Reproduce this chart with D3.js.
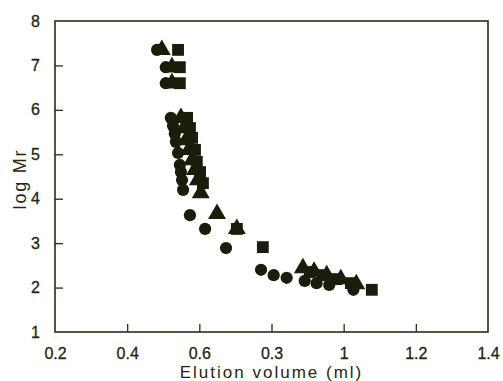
<!DOCTYPE html>
<html><head><meta charset="utf-8">
<script src="https://cdn.jsdelivr.net/npm/d3@7"></script>
<style>
html,body{margin:0;padding:0;background:#fff;}
svg{display:block;}
text{font-family:"Liberation Sans",Arial,Helvetica,sans-serif;fill:#26260f;}
</style></head>
<body>
<script>
// ---- data (Elution volume in ml, log Mr) ----
const xTickValues = [0.2, 0.4, 0.6, 0.8, 1.0, 1.2, 1.4];
const xTickLabels = ["0.2", "0.4", "0.6", "0.3", "1", "1.2", "1.4"];
const yTickValues = [1, 2, 3, 4, 5, 6, 7, 8];
const yTickLabels = ["1", "2", "3", "4", "5", "6", "7", "8"];
const xTitle = "Elution volume (ml)";
const yTitle = "log Mr";

const circleX = [0.483, 0.507, 0.507, 0.521, 0.527, 0.532, 0.535, 0.541, 0.546, 0.549, 0.552, 0.555, 0.574, 0.616, 0.674, 0.771, 0.806, 0.842, 0.892, 0.925, 0.960, 1.027];
const circleY = [7.35, 6.96, 6.60, 5.82, 5.64, 5.46, 5.28, 5.03, 4.76, 4.60, 4.42, 4.20, 3.63, 3.32, 2.89, 2.40, 2.28, 2.22, 2.15, 2.10, 2.06, 1.95];

const triX = [0.496, 0.524, 0.524, 0.549, 0.557, 0.563, 0.571, 0.580, 0.588, 0.596, 0.604, 0.649, 0.704, 0.887, 0.918, 0.953, 0.992, 1.035];
const triY = [7.35, 6.96, 6.60, 5.82, 5.59, 5.32, 5.10, 4.87, 4.65, 4.42, 4.13, 3.66, 3.32, 2.44, 2.36, 2.28, 2.19, 2.08];

const sqX = [0.541, 0.546, 0.546, 0.566, 0.574, 0.580, 0.588, 0.593, 0.602, 0.610, 0.704, 0.776, 0.906, 0.942, 0.980, 1.020, 1.078];
const sqY = [7.35, 6.96, 6.60, 5.82, 5.59, 5.37, 5.10, 4.83, 4.60, 4.35, 3.32, 2.91, 2.35, 2.28, 2.19, 2.10, 1.95];

// ---- layout ----
const W = 503, H = 381;
const mLeft = 55, mRight = 488, mTop = 21, mBottom = 332;
const ink = "#1c1c0c", axisInk = "#2e2e12";

const svg = d3.select("body").append("svg").attr("width", W).attr("height", H);

const x = d3.scaleLinear().domain([0.2, 1.4]).range([mLeft, mRight]);
const y = d3.scaleLinear().domain([1, 8]).range([mBottom, mTop]);

// frame
svg.append("rect").attr("x", mLeft).attr("y", mTop)
  .attr("width", mRight - mLeft).attr("height", mBottom - mTop)
  .attr("fill", "none").attr("stroke", axisInk).attr("stroke-width", 1.6);

// axes with inward ticks
const xAxis = d3.axisBottom(x).tickValues(xTickValues)
  .tickSize(-8).tickPadding(16)
  .tickFormat((d, i) => xTickLabels[i]);
const gx = svg.append("g").attr("transform", `translate(0,${mBottom})`).call(xAxis);
gx.select(".domain").remove();
gx.selectAll(".tick line").attr("stroke", axisInk).attr("stroke-width", 1.3)
  .filter(d => d === 0.2 || d === 1.4).remove();
gx.selectAll(".tick text").attr("font-size", 16).attr("fill", "#26260f")
  .attr("stroke", "#26260f").attr("stroke-width", 0.3)
  .attr("font-family", "Liberation Sans, Arial, sans-serif");

const yAxis = d3.axisLeft(y).tickValues(yTickValues)
  .tickSize(-8).tickPadding(15)
  .tickFormat((d, i) => yTickLabels[i]);
const gy = svg.append("g").attr("transform", `translate(${mLeft},0)`).call(yAxis);
gy.select(".domain").remove();
gy.selectAll(".tick line").attr("stroke", axisInk).attr("stroke-width", 1.3)
  .filter(d => d === 1 || d === 8).remove();
gy.selectAll(".tick text").attr("font-size", 16).attr("fill", "#26260f")
  .attr("stroke", "#26260f").attr("stroke-width", 0.3)
  .attr("font-family", "Liberation Sans, Arial, sans-serif");

// titles
svg.append("text").attr("x", (mLeft + mRight) / 2).attr("y", 378)
  .attr("text-anchor", "middle").attr("font-size", 17)
  .attr("letter-spacing", 2)
  .text(xTitle);
svg.append("text").attr("transform", `translate(26,179) rotate(-90)`)
  .attr("text-anchor", "middle").attr("font-size", 18)
  .attr("letter-spacing", 1.8)
  .text(yTitle);

// markers
const marks = svg.append("g");
const circles = circleX.map((v, i) => ({x: v, y: circleY[i]}));
const tris = triX.map((v, i) => ({x: v, y: triY[i]}));
const squares = sqX.map((v, i) => ({x: v, y: sqY[i]}));

marks.selectAll("path.sq").data(squares).join("path").attr("class", "sq")
  .attr("d", d3.symbol().type(d3.symbolSquare).size(140))
  .attr("transform", d => `translate(${x(d.x)},${y(d.y)})`)
  .attr("fill", ink);
marks.selectAll("path.tri").data(tris).join("path").attr("class", "tri")
  .attr("d", d3.symbol().type(d3.symbolTriangle).size(140))
  .attr("transform", d => `translate(${x(d.x)},${y(d.y)})`)
  .attr("fill", ink);
marks.selectAll("circle").data(circles).join("circle")
  .attr("cx", d => x(d.x)).attr("cy", d => y(d.y)).attr("r", 6.1)
  .attr("fill", ink);
</script>
</body></html>
